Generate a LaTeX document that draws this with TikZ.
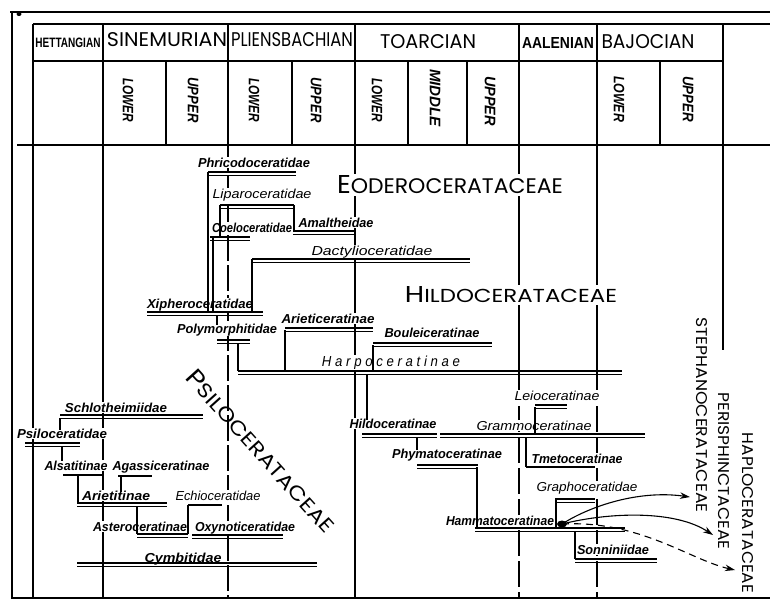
\documentclass[tikz,border=0pt]{standalone}
\usepackage{fontspec}
\usepackage{graphicx}
\setmainfont{Liberation Sans}
\newfontfamily\hdr{Poppins}
\newfontfamily\tax{Liberation Sans}
\usetikzlibrary{arrows.meta}
\newcommand\tb[2]{\resizebox{#1pt}{\height}{\tax\bfseries\itshape\fontsize{13}{13}\selectfont #2}}
\newcommand\tl[2]{\resizebox{#1pt}{\height}{\tax\itshape\fontsize{13}{13}\selectfont #2}}
\newcommand\sub[2]{\resizebox{#1pt}{10.5pt}{\tax\bfseries\itshape #2}}
\newcommand\stg[3]{\resizebox{#1pt}{#2pt}{\hdr #3}}
\newcommand\rl[3]{\draw[rthick] (#1,#3) -- (#2,#3); \draw[rthin] (#1,#3+3) -- (#2,#3+3);}
\tikzset{
  frame/.style={line width=1.1pt},
  rthick/.style={line width=1.6pt},
  rthin/.style={line width=0.7pt},
  conn/.style={line width=1.1pt},
  lab/.style={fill=white, inner sep=0.7pt, anchor=base},
  hd/.style={inner sep=0pt, anchor=center},
  sublab/.style={inner sep=0pt, rotate=-90, anchor=center},
  big/.style={fill=white, inner sep=1.5pt, anchor=center},
  arr/.style={line width=1.1pt, -{Stealth[length=10pt,width=6.5pt]}}
}
\begin{document}
\begin{tikzpicture}[x=1pt,y=-1pt]
\useasboundingbox (0,0) rectangle (770,600);
% ---------------- frame ----------------
\draw[line width=1.8pt] (10,12) -- (770,12);
\draw[frame] (12,12) -- (12,598) -- (770,598);
\fill (19,14) ellipse (2.5 and 2);
\draw[frame] (33,24) -- (770,24);
\draw[frame] (33,61) -- (723,61);
\draw[frame] (17,145) -- (770,145);
% stage boundaries
\foreach \x in {33,103,355} \draw[frame] (\x,24) -- (\x,598);
\draw[frame] (228,24) -- (228,145);
\draw[frame,dash pattern=on 26pt off 4pt] (228,145) -- (228,598);
\foreach \x in {519,597} {
  \draw[frame] (\x,24) -- (\x,375);
  \draw[frame,dash pattern=on 26pt off 5pt] (\x,375) -- (\x,598);
}
\draw[frame] (723,24) -- (723,350);
% substage boundaries
\foreach \x in {166,292,408,467,660} \draw[frame] (\x,61) -- (\x,145);
% ---------------- header text ----------------
\node[hd] (het) at (68,43) {\resizebox{65pt}{9.5pt}{\tax\bfseries HETTANGIAN}};
\node[hd] (sin) at (167,40) {\stg{120}{14}{SINEMURIAN}};
\node[hd] (pli) at (292,40) {\stg{122}{14}{PLIENSBACHIAN}};
\node[hd] (toa) at (428,42) {\stg{96}{14}{TOARCIAN}};
\node[hd] (aal) at (558,43) {\resizebox{72pt}{11pt}{\tax\bfseries AALENIAN}};
\node[hd] (baj) at (648,42) {\stg{93}{14}{BAJOCIAN}};
\node[sublab] (sl) at (128,100) {\sub{44}{LOWER}};
\node[sublab] (su) at (193,100) {\sub{45}{UPPER}};
\node[sublab] (pl) at (254,100) {\sub{44}{LOWER}};
\node[sublab] (pu) at (316,100) {\sub{45}{UPPER}};
\node[sublab] (tl) at (377,100) {\sub{44}{LOWER}};
\node[sublab] (tm) at (435,98) {\sub{58}{MIDDLE}};
\node[sublab] (tu) at (490,101) {\sub{50}{UPPER}};
\node[sublab] (bl) at (619,99) {\sub{46}{LOWER}};
\node[sublab] (bu) at (688,99) {\sub{46}{UPPER}};
% ---------------- superfamilies ----------------
\node[big] (eod) at (450,185) {\resizebox{226pt}{18pt}{\hdr\fontsize{22}{22}\selectfont E\fontsize{18}{18}\selectfont ODEROCERATACEAE}};
\node[big] (hil) at (511,295) {\resizebox{212pt}{16pt}{\hdr\fontsize{22}{22}\selectfont H\fontsize{18}{18}\selectfont ILDOCERATACEAE}};
\node[big,fill=none,rotate=-48] (psi) at (261,451) {\resizebox{210pt}{17pt}{\hdr\fontsize{22}{22}\selectfont P\fontsize{18}{18}\selectfont SILOCERATACEAE}};
\node[big,fill=none,rotate=-90] (ste) at (702,415) {\resizebox{195pt}{11pt}{\hdr STEPHANOCERATACEAE}};
\node[big,fill=none,rotate=-90] (per) at (724,471) {\resizebox{157pt}{11pt}{\hdr PERISPHINCTACEAE}};
\node[big,fill=none,rotate=-90] (hap) at (748,513) {\resizebox{160pt}{11pt}{\hdr HAPLOCERATACEAE}};
% ---------------- taxa labels ----------------
\node[lab] (phr) at (254,167) {\tb{112}{Phricodoceratidae}};
\node[lab] (lip) at (262,198) {\tl{99}{Liparoceratidae}};
\node[lab] (coe) at (252,232) {\tb{80}{Coeloceratidae}};
\node[lab] (ama) at (336,227) {\tb{75}{Amaltheidae}};
\node[lab] (dac) at (372,255) {\tl{121}{Dactylioceratidae}};
\node[lab] (xip) at (200,308) {\tb{106}{Xipheroceratidae}};
\node[lab] (pol) at (227,333) {\tb{100}{Polymorphitidae}};
\node[lab] (ari) at (328,323) {\tb{93}{Arieticeratinae}};
\node[lab] (bou) at (432,337) {\tb{95}{Bouleiceratinae}};
\node[lab] (har) at (391,366) {\resizebox{138pt}{\height}{\tax\itshape\fontsize{14.5}{14.5}\selectfont H a r p o c e r a t i n a e}};
\node[lab] (hld) at (393,428) {\tb{87}{Hildoceratinae}};
\node[lab] (gra) at (534,430) {\tl{115}{Grammoceratinae}};
\node[lab] (lei) at (557,400) {\tl{85}{Leioceratinae}};
\node[lab] (phy) at (447,458) {\tb{110}{Phymatoceratinae}};
\node[lab] (tme) at (577,463) {\tb{91}{Tmetoceratinae}};
\node[lab] (grp) at (587,491) {\tl{101}{Graphoceratidae}};
\node[lab] (ham) at (500,525) {\tb{108}{Hammatoceratinae}};
\node[lab] (son) at (613,554) {\tb{72}{Sonniniidae}};
\node[lab] (sch) at (116,412) {\tb{102}{Schlotheimiidae}};
\node[lab] (psl) at (62,438) {\tb{90}{Psiloceratidae}};
\node[lab] (als) at (76,470) {\tb{63}{Alsatitinae}};
\node[lab] (aga) at (161,470) {\tb{97}{Agassiceratinae}};
\node[lab] (art) at (116,500) {\tb{68}{Arietitinae}};
\node[lab] (ech) at (218,500) {\tl{85}{Echioceratidae}};
\node[lab] (ast) at (140,531) {\tb{94}{Asteroceratinae}};
\node[lab] (oxy) at (245,531) {\tb{100}{Oxynoticeratidae}};
\node[lab] (cym) at (183,562) {\tb{77}{Cymbitidae}};
% ---------------- ranges ----------------
\rl{208}{296}{172}
\rl{220}{294}{205}
\rl{210}{250}{237}
\rl{293}{355}{231}
\rl{252}{470}{259}
\rl{147}{263}{312}
\rl{217}{250}{340}
\rl{285}{373}{328}
\rl{373}{492}{343}
\rl{238}{622}{371}
\rl{362}{437}{434}
\rl{440}{645}{434}
\rl{535}{567}{405}
\rl{417}{478}{465}
\draw[rthick] (526,467) -- (595,467);
\rl{555}{595}{499}
\rl{475}{625}{528}
\rl{575}{657}{559}
\rl{60}{203}{415}
\rl{25}{80}{443}
\draw[rthick] (63,475) -- (102,475);
\draw[rthick] (118,476) -- (152,476);
\rl{77}{167}{503}
\draw[rthick] (188,505) -- (222,505);
\rl{137}{188}{534}
\rl{192}{283}{535}
\rl{77}{317}{563}
% ---------------- connectors ----------------
\draw[conn] (208,172) -- (208,312);
\draw[conn] (213,237) -- (213,312);
\draw[conn] (220,205) -- (220,237);
\draw[conn] (294,205) -- (294,231);
\draw[conn] (252,259) -- (252,312);
\draw[conn] (217,315) -- (217,325);
\draw[conn] (238,343) -- (238,371);
\draw[conn] (285,330) -- (285,371);
\draw[conn] (373,345) -- (373,371);
\draw[conn] (367,374) -- (367,420);
\draw[conn] (417,437) -- (417,450);
\draw[conn] (477,467) -- (477,528);
\draw[conn] (535,407) -- (535,434);
\draw[conn] (526,437) -- (526,467);
\draw[conn] (556,499) -- (556,528);
\draw[conn] (575,531) -- (575,559);
\draw[conn] (60,418) -- (60,430);
\draw[conn] (62,446) -- (62,461);
\draw[conn] (78,475) -- (78,503);
\draw[conn] (121,476) -- (121,492);
\draw[conn] (137,506) -- (137,534);
\draw[conn] (188,505) -- (188,534);
% ---------------- arrows ----------------
\fill (562,524) ellipse (5 and 3.5) coordinate (o);
\coordinate (a1) at (690,497);
\coordinate (a2) at (713,535);
\coordinate (a3) at (735,570);
\draw[arr] (o) .. controls (592,505) and (640,490) .. (a1);
\draw[arr] (o) .. controls (610,512) and (675,510) .. (a2);
\draw[arr,dash pattern=on 7pt off 5pt] (o) .. controls (640,520) and (690,560) .. (a3);
\end{tikzpicture}
\end{document}
